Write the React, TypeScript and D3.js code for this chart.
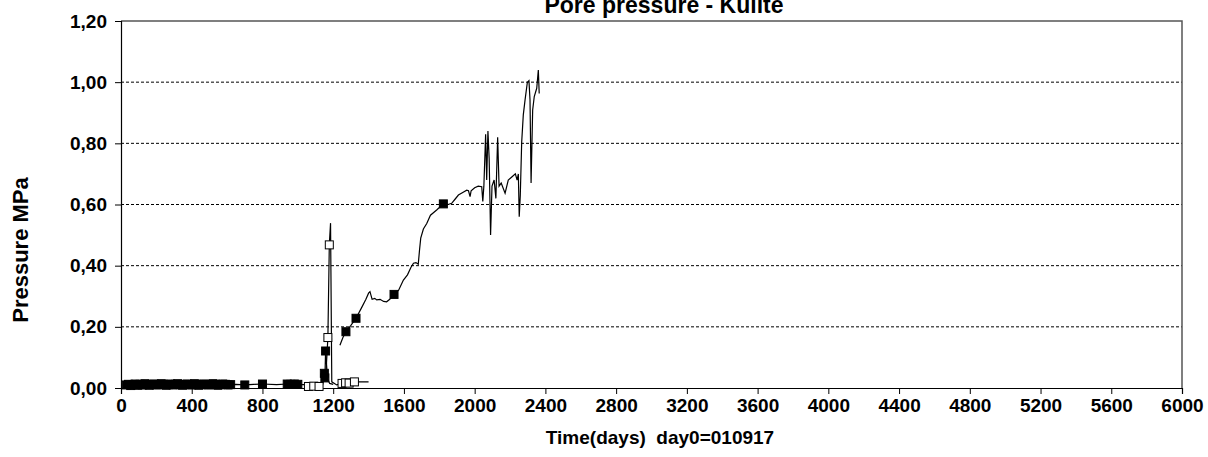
import React, { useEffect, useRef } from 'react';
import * as d3 from 'd3';

// Filled-square series near zero (early readings + rise at ~1150)
const earlyDays = [30, 42, 55, 68, 80, 95, 108, 120, 135, 148, 160, 175, 188, 200, 215, 228, 240, 255, 268, 280, 295, 308, 320, 335, 348, 360, 375, 388, 400, 415, 428, 440, 455, 468, 480, 495, 508, 520, 535, 548, 560, 575, 590, 605, 620, 650, 700, 750, 800, 880, 940, 960, 980, 1000, 1060, 1100, 1140, 1150, 1153, 1157, 1168, 1180, 1200];
const earlyVals = [0.010, 0.012, 0.008, 0.011, 0.013, 0.009, 0.012, 0.010, 0.014, 0.011, 0.009, 0.012, 0.013, 0.010, 0.011, 0.014, 0.012, 0.009, 0.011, 0.013, 0.010, 0.012, 0.014, 0.011, 0.009, 0.012, 0.013, 0.011, 0.010, 0.014, 0.012, 0.009, 0.011, 0.013, 0.012, 0.010, 0.011, 0.014, 0.012, 0.009, 0.011, 0.013, 0.012, 0.010, 0.011, 0.012, 0.010, 0.012, 0.013, 0.011, 0.013, 0.012, 0.013, 0.012, 0.010, 0.011, 0.020, 0.048, 0.033, 0.121, 0.030, 0.015, 0.012];
const earlyMarked = [30, 42, 55, 68, 80, 95, 108, 120, 135, 148, 160, 175, 188, 200, 215, 228, 240, 255, 268, 280, 295, 308, 320, 335, 348, 360, 375, 388, 400, 415, 428, 440, 455, 468, 480, 495, 508, 520, 535, 548, 560, 575, 590, 605, 620, 700, 800, 940, 960, 980, 1000, 1150, 1153, 1157];

// Open-square series (spike at ~1170, then low readings)
const openDays = [1040, 1060, 1090, 1120, 1140, 1160, 1170, 1178, 1185, 1192, 1220, 1250, 1270, 1290, 1320, 1350, 1400];
const openVals = [0.006, 0.005, 0.006, 0.005, 0.010, 0.060, 0.165, 0.468, 0.539, 0.020, 0.010, 0.015, 0.017, 0.016, 0.020, 0.020, 0.020];
const openMarked = [1060, 1090, 1120, 1170, 1178, 1250, 1270, 1290, 1320];

// Main filled-square series (long rise to ~1.0)
const mainDays = [1238, 1255, 1272, 1300, 1329, 1360, 1385, 1400, 1408, 1420, 1435, 1446, 1465, 1485, 1502, 1520, 1544, 1570, 1597, 1620, 1640, 1654, 1668, 1681, 1688, 1695, 1710, 1729, 1750, 1785, 1823, 1850, 1870, 1890, 1908, 1935, 1955, 1965, 1974, 1980, 2000, 2020, 2040, 2046, 2052, 2062, 2068, 2075, 2082, 2090, 2098, 2110, 2120, 2130, 2138, 2150, 2172, 2190, 2210, 2230, 2240, 2247, 2252, 2258, 2266, 2275, 2285, 2298, 2307, 2313, 2319, 2328, 2337, 2351, 2360, 2365];
const mainVals = [0.140, 0.165, 0.184, 0.205, 0.228, 0.262, 0.290, 0.310, 0.315, 0.290, 0.293, 0.288, 0.290, 0.283, 0.282, 0.290, 0.306, 0.320, 0.353, 0.370, 0.395, 0.408, 0.410, 0.405, 0.450, 0.490, 0.520, 0.538, 0.565, 0.582, 0.602, 0.600, 0.604, 0.618, 0.631, 0.640, 0.647, 0.645, 0.626, 0.645, 0.655, 0.660, 0.658, 0.610, 0.660, 0.830, 0.680, 0.840, 0.750, 0.500, 0.660, 0.680, 0.620, 0.820, 0.660, 0.670, 0.637, 0.680, 0.690, 0.700, 0.680, 0.700, 0.560, 0.630, 0.805, 0.893, 0.942, 1.000, 1.005, 0.942, 0.670, 0.909, 0.953, 0.980, 1.040, 0.963];
const mainMarked = [1272, 1329, 1544, 1823];

const xTicks = [0, 400, 800, 1200, 1600, 2000, 2400, 2800, 3200, 3600, 4000, 4400, 4800, 5200, 5600, 6000];
const yTicks = [0, 0.2, 0.4, 0.6, 0.8, 1.0, 1.2];

const FONT = 'Arial, "Liberation Sans", sans-serif';

const App: React.FC = () => {
  const svgRef = useRef<SVGSVGElement>(null);

  useEffect(() => {
    if (!svgRef.current) return;
    const svg = d3.select(svgRef.current);
    svg.selectAll('*').remove();

    const x = d3.scaleLinear().domain([0, 6000]).range([121, 1182]);
    const y = d3.scaleLinear().domain([0, 1.2]).range([388, 21]);
    const fmt = (v: number) => d3.format('.2f')(v).replace('.', ',');

    svg.append('rect').attr('width', 1208).attr('height', 457).attr('fill', '#fff');

    // dashed grid
    svg.append('g').selectAll('line')
      .data(yTicks.filter(t => t > 0 && t < 1.2))
      .enter().append('line')
      .attr('x1', x(0)).attr('x2', x(6000))
      .attr('y1', d => y(d)).attr('y2', d => y(d))
      .attr('stroke', '#000').attr('stroke-width', 1)
      .attr('stroke-dasharray', '3,2');

    // frame
    svg.append('path')
      .attr('d', `M${x(0)},${y(1.2)}H${x(6000)}V${y(0)}`)
      .attr('fill', 'none').attr('stroke', '#555').attr('stroke-width', 1.5);

    const xAxis = svg.append('g').attr('transform', `translate(0,${y(0)})`)
      .call(d3.axisBottom(x).tickValues(xTicks).tickSize(6).tickPadding(5).tickFormat(d => String(d)));
    const yAxis = svg.append('g').attr('transform', `translate(${x(0)},0)`)
      .call(d3.axisLeft(y).tickValues(yTicks).tickSize(6).tickPadding(8).tickFormat(d => fmt(d as number)));
    [xAxis, yAxis].forEach(a => {
      a.select('.domain').attr('stroke', '#000').attr('stroke-width', 1.2);
      a.selectAll('.tick line').attr('stroke', '#000');
      a.selectAll('text').attr('font-family', FONT).attr('font-weight', 'bold')
        .attr('font-size', 19).attr('fill', '#000');
    });

    const line = d3.line<[number, number]>().x(d => x(d[0])).y(d => y(d[1]));
    const pts = (days: number[], vals: number[]) => days.map((d, i) => [d, vals[i]] as [number, number]);
    const pick = (days: number[], vals: number[], marked: number[]) =>
      pts(days, vals).filter(p => marked.includes(p[0]));

    const series = [
      { days: earlyDays, vals: earlyVals, marked: earlyMarked, fill: '#000' },
      { days: openDays, vals: openVals, marked: openMarked, fill: '#fff' },
      { days: mainDays, vals: mainVals, marked: mainMarked, fill: '#000' },
    ];

    series.forEach(s => {
      svg.append('path')
        .datum(pts(s.days, s.vals))
        .attr('d', line)
        .attr('fill', 'none').attr('stroke', '#000').attr('stroke-width', 1.2);
    });

    series.forEach(s => {
      svg.append('g').selectAll('rect')
        .data(pick(s.days, s.vals, s.marked))
        .enter().append('rect')
        .attr('x', d => x(d[0]) - 4).attr('y', d => y(d[1]) - 4)
        .attr('width', 8).attr('height', 8)
        .attr('fill', s.fill).attr('stroke', '#000').attr('stroke-width', 1);
    });

    svg.append('text')
      .attr('x', 664).attr('y', 13)
      .attr('text-anchor', 'middle')
      .attr('font-family', FONT).attr('font-weight', 'bold').attr('font-size', 23)
      .text('Pore pressure - Kulite');

    svg.append('text')
      .attr('x', 660).attr('y', 444)
      .attr('text-anchor', 'middle')
      .attr('font-family', FONT).attr('font-weight', 'bold').attr('font-size', 19)
      .attr('xml:space', 'preserve')
      .style('white-space', 'pre')
      .text('Time(days)  day0=010917');

    svg.append('text')
      .attr('transform', `translate(28,250) rotate(-90)`)
      .attr('text-anchor', 'middle')
      .attr('font-family', FONT).attr('font-weight', 'bold').attr('font-size', 22)
      .text('Pressure MPa');
  }, []);

  return (
    <div style={{ position: 'absolute', left: 0, top: 0 }}>
      <svg ref={svgRef} width="1208" height="457" viewBox="0 0 1208 457" style={{ display: 'block' }}></svg>
    </div>
  );
};

export default App;
